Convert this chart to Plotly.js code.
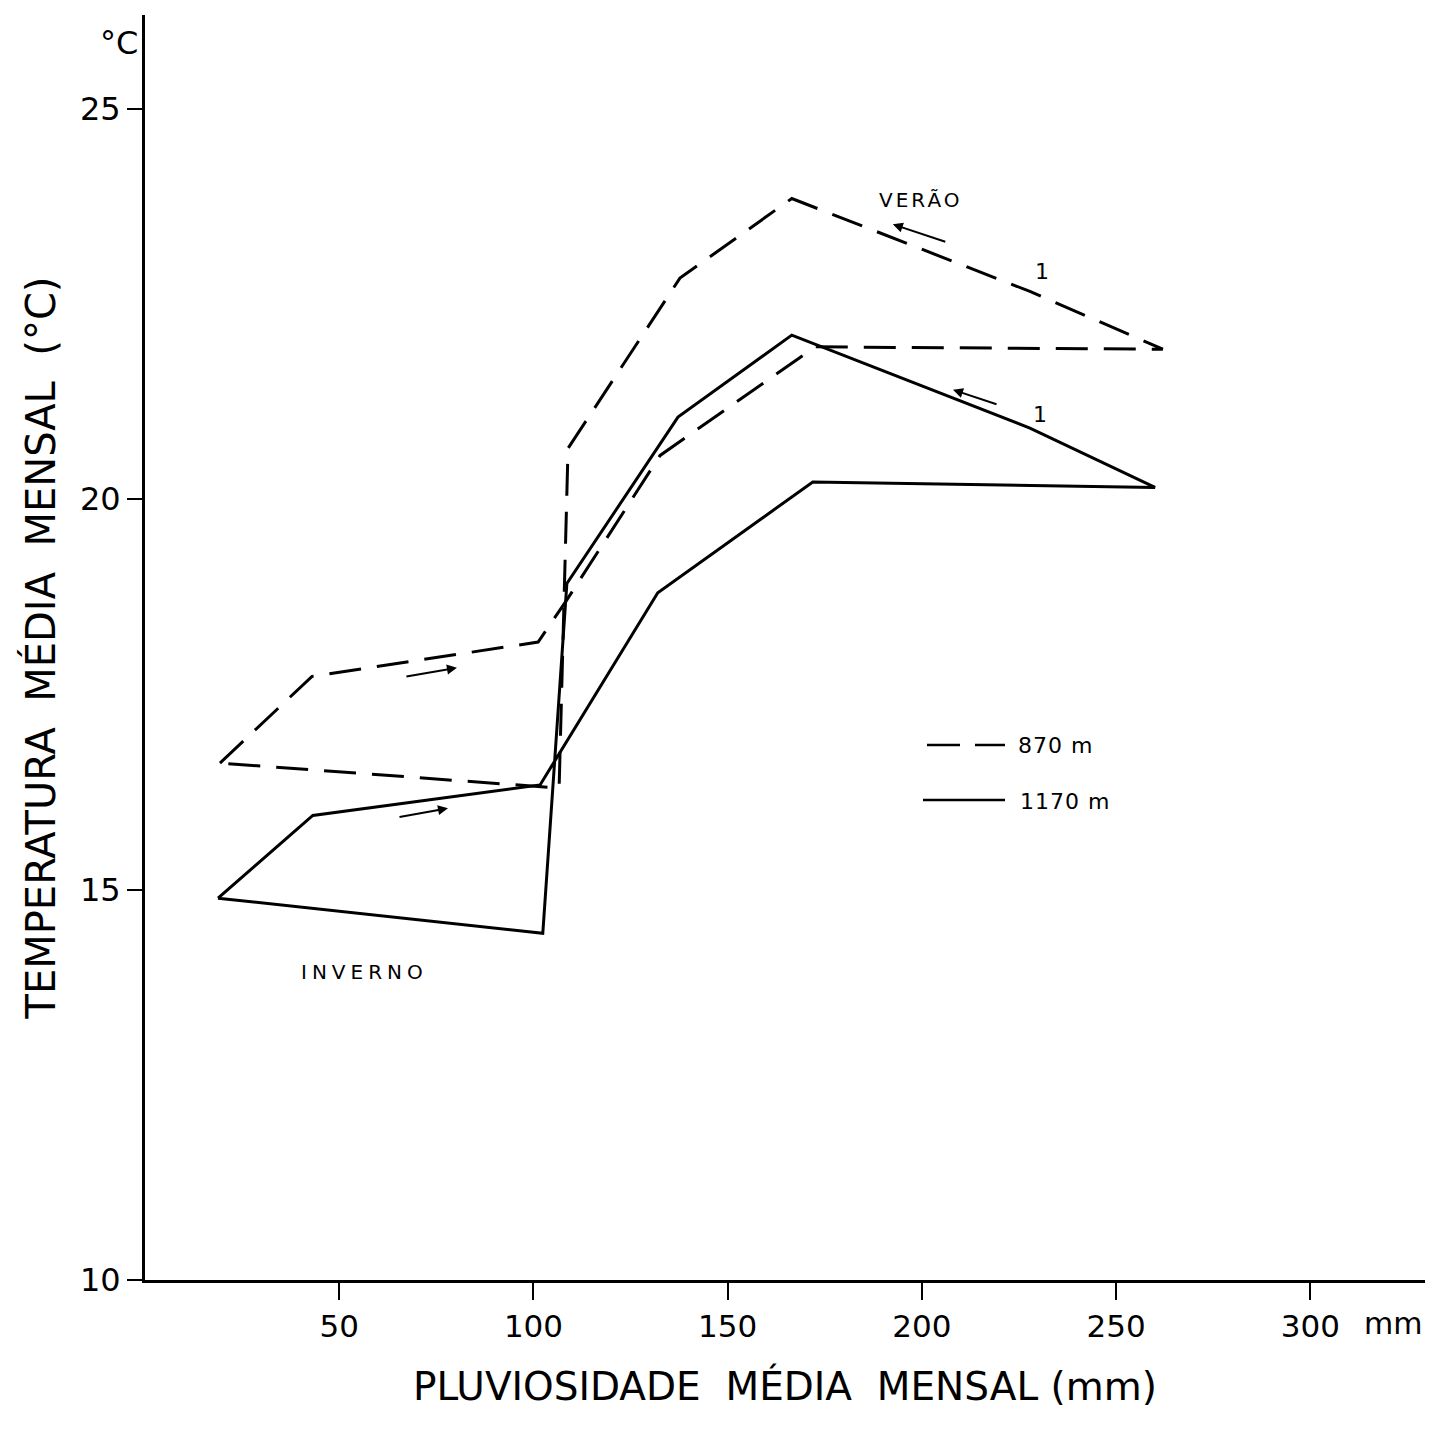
<!DOCTYPE html>
<html>
<head>
<meta charset="utf-8">
<script src="https://cdn.plot.ly/plotly-3.0.1.min.js"></script>
<style>
  html, body { margin: 0; padding: 0; background: #fff; }
  #chart { width: 1430px; height: 1433px; }
</style>
</head>
<body>
<div id="chart"></div>
<script>
// ---- Data ----
// 870 m station (dashed loop), monthly rainfall (mm) vs mean temperature (°C)
const rain870 = [19.3, 43.0, 101.2, 105.5, 108.6, 132.6, 172.5, 262.0, 227.8, 166.5, 137.7, 108.9, 106.6, 19.3];
const temp870 = [16.62, 17.73, 18.17, 18.49, 18.71, 20.56, 21.95, 21.92, 22.66, 23.85, 22.83, 20.65, 16.30, 16.62];

// 1170 m station (solid loop)
const rain1170 = [18.8, 43.2, 101.7, 132.0, 171.9, 260.0, 227.8, 166.5, 137.2, 108.6, 102.4, 18.8];
const temp1170 = [14.89, 15.95, 16.34, 18.80, 20.22, 20.15, 20.91, 22.10, 21.05, 18.92, 14.44, 14.89];

// Axis ticks
const xTickVals = [50, 100, 150, 200, 250, 300];
const xTickText = ["50", "100", "150", "200", "250", "300"];
const yTickVals = [10, 15, 20, 25];
const yTickText = ["10", "15", "20", "25"];

// Series names
const seriesNames = ["870 m", "1170 m"];

const FONT = "DejaVu Sans, Liberation Sans, sans-serif";

const traces = [
  {
    x: rain870, y: temp870, type: "scatter", mode: "lines", name: seriesNames[0],
    line: { color: "#000", width: 3, dash: "32px,16px" }, showlegend: false, hoverinfo: "x+y"
  },
  {
    x: rain1170, y: temp1170, type: "scatter", mode: "lines", name: seriesNames[1],
    line: { color: "#000", width: 3 }, showlegend: false, hoverinfo: "x+y"
  }
];

// helpers for paper coords of decorations (legend key, unit labels)
const L = 145, R = 5, T = 15, B = 153, W = 1430, H = 1433;
const pw = W - L - R, ph = H - T - B;
const px = v => (v - L) / pw;
const py = v => (H - B - v) / ph;

const sp = (t, s) => '<span style="letter-spacing:' + s + 'px">' + t + '</span>';

const annotations = [
  { text: "°C", xref: "paper", yref: "paper", x: px(140), y: py(22), xanchor: "right", showarrow: false, font: { family: FONT, size: 32, color: "#000" } },
  { text: "mm", xref: "paper", yref: "paper", x: px(1424), y: py(1343), xanchor: "right", showarrow: false, font: { family: FONT, size: 30, color: "#000" } },
  { text: sp("VERÃO", 3), x: 199.6, y: 23.83, showarrow: false, font: { family: FONT, size: 20, color: "#000" } },
  { text: sp("INVERNO", 5), x: 56.5, y: 13.94, showarrow: false, font: { family: FONT, size: 20, color: "#000" } },
  { text: "1", x: 230.9, y: 22.92, showarrow: false, font: { family: FONT, size: 22, color: "#000" } },
  { text: "1", x: 230.4, y: 21.08, showarrow: false, font: { family: FONT, size: 22, color: "#000" } },
  // direction arrows
  { text: "", x: 80.3, y: 17.84, ax: -52, ay: 9, showarrow: true, arrowhead: 2, arrowsize: 1, arrowwidth: 2, arrowcolor: "#000" },
  { text: "", x: 78.0, y: 16.04, ax: -50, ay: 9, showarrow: true, arrowhead: 2, arrowsize: 1, arrowwidth: 2, arrowcolor: "#000" },
  { text: "", x: 192.5, y: 23.52, ax: 54, ay: 18, showarrow: true, arrowhead: 2, arrowsize: 1, arrowwidth: 2, arrowcolor: "#000" },
  { text: "", x: 208.0, y: 21.40, ax: 45, ay: 15, showarrow: true, arrowhead: 2, arrowsize: 1, arrowwidth: 2, arrowcolor: "#000" },
  // legend labels
  { text: sp(seriesNames[0], 1), xref: "paper", yref: "paper", x: px(1016), y: py(745), xanchor: "left", showarrow: false, font: { family: FONT, size: 22, color: "#000" } },
  { text: sp(seriesNames[1], 1), xref: "paper", yref: "paper", x: px(1018), y: py(801), xanchor: "left", showarrow: false, font: { family: FONT, size: 22, color: "#000" } }
];

const shapes = [
  { type: "line", xref: "paper", yref: "paper", x0: px(927), x1: px(1005), y0: py(745), y1: py(745), line: { color: "#000", width: 2.5, dash: "33px,15px" } },
  { type: "line", xref: "paper", yref: "paper", x0: px(923), x1: px(1005), y0: py(800), y1: py(800), line: { color: "#000", width: 2.5 } }
];

const layout = {
  width: W, height: H,
  margin: { l: L, r: R, t: T, b: B },
  paper_bgcolor: "#fff", plot_bgcolor: "#fff",
  font: { family: FONT, color: "#000" },
  showlegend: false,
  xaxis: {
    range: [0, 329.5],
    tickvals: xTickVals, ticktext: xTickText,
    ticks: "outside", ticklen: 17, tickwidth: 2, tickcolor: "#000",
    showline: true, linewidth: 3, linecolor: "#000",
    showgrid: false, zeroline: false,
    tickfont: { family: FONT, size: 31, color: "#000" },
    title: { text: "PLUVIOSIDADE  MÉDIA  MENSAL (mm)", font: { family: FONT, size: 39, color: "#000" }, standoff: 30 }
  },
  yaxis: {
    range: [10, 26.2],
    tickvals: yTickVals, ticktext: yTickText,
    ticks: "outside", ticklen: 15, tickwidth: 2, tickcolor: "#000",
    showline: true, linewidth: 3, linecolor: "#000",
    showgrid: false, zeroline: false,
    tickfont: { family: FONT, size: 32, color: "#000" },
    title: { text: "TEMPERATURA  MÉDIA  MENSAL  (°C)", font: { family: FONT, size: 40, color: "#000" }, standoff: 12 }
  },
  annotations: annotations,
  shapes: shapes
};

Plotly.newPlot("chart", traces, layout, { displayModeBar: false, staticPlot: true });
</script>
</body>
</html>
